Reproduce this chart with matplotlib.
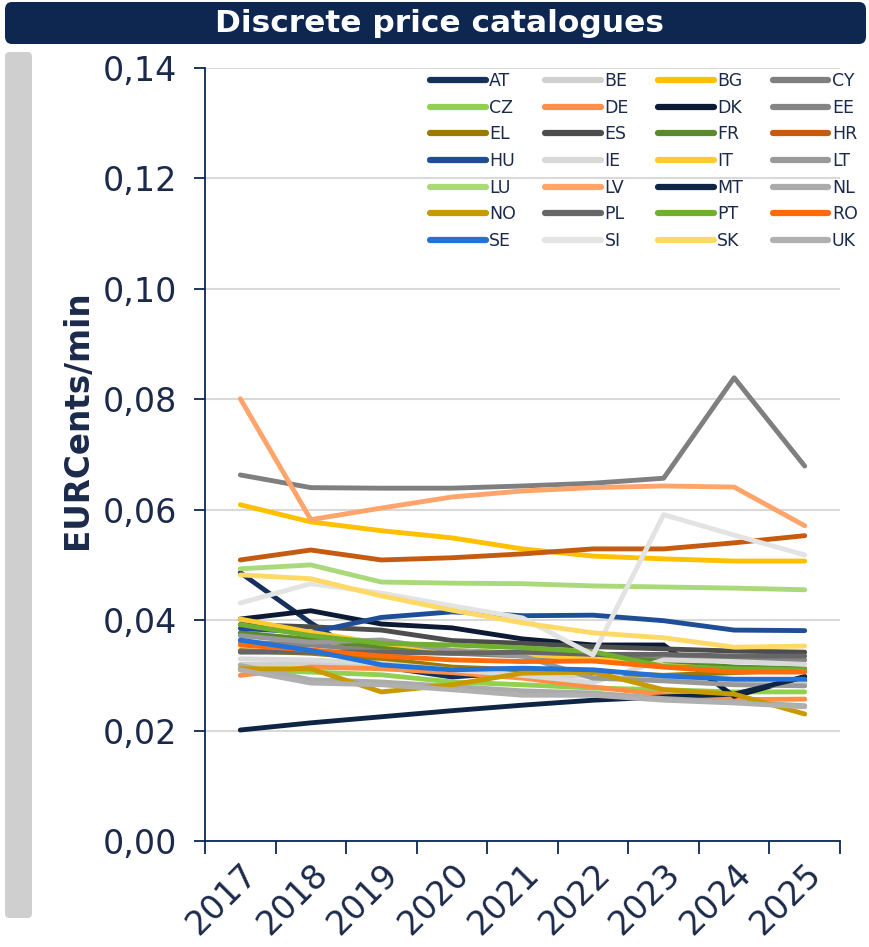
import matplotlib
matplotlib.use("Agg")
import matplotlib.pyplot as plt
from matplotlib.patches import FancyBboxPatch

years = ["2017", "2018", "2019", "2020", "2021", "2022", "2023", "2024", "2025"]
countries = ["AT", "BE", "BG", "CY", "CZ", "DE", "DK", "EE", "EL", "ES",
             "FR", "HR", "HU", "IE", "IT", "LT", "LU", "LV", "MT", "NL",
             "NO", "PL", "PT", "RO", "SE", "SI", "SK", "UK"]

AT = [0.0486, 0.0395, 0.0316, 0.0297, 0.0306, 0.0305, 0.0296, 0.0291, 0.0290]
BE = [0.0320, 0.0322, 0.0318, 0.0310, 0.0303, 0.0298, 0.0292, 0.0288, 0.0286]
BG = [0.0609, 0.0578, 0.0562, 0.0549, 0.0529, 0.0516, 0.0511, 0.0507, 0.0507]
CY = [0.0663, 0.0640, 0.0639, 0.0639, 0.0643, 0.0648, 0.0657, 0.0839, 0.0679]
CZ = [0.0310, 0.0306, 0.0301, 0.0288, 0.0283, 0.0277, 0.0274, 0.0270, 0.0270]
DE = [0.0300, 0.0315, 0.0312, 0.0305, 0.0295, 0.0279, 0.0265, 0.0256, 0.0257]
DK = [0.0402, 0.0417, 0.0393, 0.0386, 0.0366, 0.0355, 0.0355, 0.0262, 0.0298]
EE = [0.0360, 0.0355, 0.0345, 0.0340, 0.0335, 0.0332, 0.0330, 0.0329, 0.0328]
EL = [0.0345, 0.0340, 0.0330, 0.0315, 0.0310, 0.0305, 0.0300, 0.0305, 0.0310]
ES = [0.0392, 0.0388, 0.0382, 0.0363, 0.0358, 0.0352, 0.0348, 0.0344, 0.0342]
FR = [0.0377, 0.0365, 0.0352, 0.0345, 0.0340, 0.0335, 0.0325, 0.0315, 0.0312]
HR = [0.0509, 0.0527, 0.0509, 0.0513, 0.0520, 0.0529, 0.0529, 0.0540, 0.0553]
HU = [0.0385, 0.0378, 0.0405, 0.0415, 0.0408, 0.0409, 0.0399, 0.0382, 0.0381]
IE = [0.0330, 0.0328, 0.0322, 0.0310, 0.0300, 0.0287, 0.0328, 0.0325, 0.0320]
IT = [0.0402, 0.0378, 0.0358, 0.0345, 0.0338, 0.0330, 0.0318, 0.0310, 0.0308]
LT = [0.0372, 0.0360, 0.0364, 0.0345, 0.0335, 0.0295, 0.0290, 0.0283, 0.0281]
LU = [0.0493, 0.0500, 0.0469, 0.0467, 0.0466, 0.0462, 0.0460, 0.0458, 0.0455]
LV = [0.0801, 0.0582, 0.0603, 0.0623, 0.0634, 0.0640, 0.0643, 0.0641, 0.0571]
MT = [0.0201, 0.0214, 0.0225, 0.0236, 0.0246, 0.0255, 0.0261, 0.0266, 0.0297]
NL = [0.0318, 0.0292, 0.0288, 0.0280, 0.0272, 0.0268, 0.0258, 0.0252, 0.0245]
NO = [0.0312, 0.0312, 0.0270, 0.0283, 0.0304, 0.0306, 0.0274, 0.0266, 0.0230]
PL = [0.0342, 0.0342, 0.0342, 0.0340, 0.0342, 0.0338, 0.0338, 0.0335, 0.0335]
PT = [0.0392, 0.0372, 0.0358, 0.0355, 0.0350, 0.0343, 0.0316, 0.0312, 0.0310]
RO = [0.0355, 0.0346, 0.0335, 0.0328, 0.0325, 0.0326, 0.0315, 0.0306, 0.0306]
SE = [0.0364, 0.0345, 0.0319, 0.0310, 0.0313, 0.0310, 0.0299, 0.0293, 0.0293]
SI = [0.0431, 0.0466, 0.0449, 0.0426, 0.0404, 0.0337, 0.0591, 0.0554, 0.0518]
SK = [0.0482, 0.0475, 0.0444, 0.0418, 0.0395, 0.0377, 0.0368, 0.0351, 0.0353]
UK = [0.0310, 0.0286, 0.0283, 0.0274, 0.0264, 0.0264, 0.0255, 0.0250, 0.0243]

series = [AT, BE, BG, CY, CZ, DE, DK, EE, EL, ES, FR, HR, HU, IE, IT, LT,
          LU, LV, MT, NL, NO, PL, PT, RO, SE, SI, SK, UK]

colors = ["#15305A", "#D0D0D0", "#FFC000", "#7F7F7F", "#92D050", "#FF8F47",
          "#0C1A33", "#858585", "#9C7A00", "#4D4D4D", "#5B8A2B", "#C55A11",
          "#1F4E96", "#D9D9D9", "#FFCA30", "#999999", "#A9D97A", "#FFA56B",
          "#0F2545", "#ABABAB", "#C99A00", "#666666", "#70B030", "#FF6A0A",
          "#2472D6", "#E3E3E3", "#FFD966", "#B0B0B0"]

navy = "#0D2750"
text_col = "#1B2A4A"

fig = plt.figure(figsize=(8.7, 9.47), dpi=100)

# title banner
banner = FancyBboxPatch((5 / 870, 1 - 44 / 947), 861 / 870, 42 / 947,
                        boxstyle="round,pad=0,rounding_size=0.008",
                        transform=fig.transFigure, facecolor=navy,
                        edgecolor="none", zorder=0)
fig.patches.append(banner)
fig.text(0.505, 1 - 23 / 947, "Discrete price catalogues", color="white",
         fontsize=22.5, fontweight="bold", ha="center", va="center")

# grey side bar
side = FancyBboxPatch((5 / 870, 1 - 918 / 947), 27 / 870, 866 / 947,
                      boxstyle="round,pad=0,rounding_size=0.005",
                      transform=fig.transFigure, facecolor="#D0CFCF",
                      edgecolor="none", zorder=0)
fig.patches.append(side)

ax = fig.add_axes([205 / 870, 1 - 841 / 947, 635 / 870, 773 / 947])
x = list(range(len(years)))
lines = {}
for name, vals, c in zip(countries, series, colors):
    lines[name], = ax.plot(x, vals, color=c, lw=3.5, solid_capstyle="round",
                           solid_joinstyle="round", label=name)

ax.set_xlim(-0.5, len(years) - 0.5)
ax.set_ylim(0, 0.14)
ax.set_yticks([0, 0.02, 0.04, 0.06, 0.08, 0.10, 0.12, 0.14])
ax.set_yticklabels(["0,00", "0,02", "0,04", "0,06", "0,08", "0,10", "0,12", "0,14"])
ax.yaxis.grid(True, color="#D9D9D9", lw=1.5)
ax.set_axisbelow(True)

ax.set_xticks(x)
ax.set_xticklabels(years, rotation=45, ha="right", rotation_mode="anchor")
ax.set_xticks([i - 0.5 for i in range(len(years) + 1)], minor=True)
ax.tick_params(axis="x", which="major", length=0, labelsize=24,
               labelcolor=text_col, pad=12)
ax.tick_params(axis="x", which="minor", length=9, width=1.3, color=navy)
ax.tick_params(axis="y", length=8, width=1.3, color=navy, labelsize=24,
               labelcolor=text_col, pad=12)

for s in ["top", "right"]:
    ax.spines[s].set_visible(False)
for s in ["left", "bottom"]:
    ax.spines[s].set_color(navy)
    ax.spines[s].set_linewidth(1.3)

ax.set_ylabel("EURCents/min", fontsize=23.5, fontweight="bold", color=text_col)
ax.yaxis.set_label_coords(-0.175, 0.545)

# legend filled row by row: 4 columns x 7 rows
ncol, nrow = 4, 7
order = [countries[r * ncol + c] for c in range(ncol) for r in range(nrow)]
leg = ax.legend([lines[n] for n in order], order, ncol=ncol, loc="upper left",
                bbox_to_anchor=(430 / 870, 1 - 72 / 947),
                bbox_transform=fig.transFigure, frameon=False, fontsize=12.5,
                handlelength=3.2, handletextpad=0.2, columnspacing=1.7,
                labelspacing=0.5, borderpad=0, borderaxespad=0)
for t in leg.get_texts():
    t.set_color(text_col)
for h in leg.legend_handles:
    h.set_linewidth(4.5)

fig.savefig("out.png", dpi=100)
